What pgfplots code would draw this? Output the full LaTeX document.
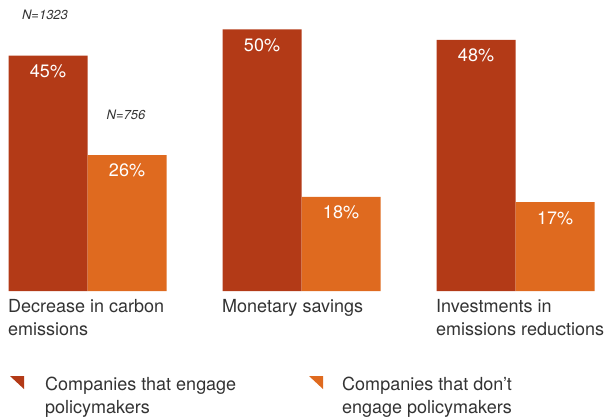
\documentclass[border=0pt]{standalone}
\usepackage{pgfplots}
\pgfplotsset{compat=1.18}
\usepackage{fontspec}
\setmainfont{TeX Gyre Heros}
\definecolor{darkred}{HTML}{B33A17}
\definecolor{orng}{HTML}{DF6A1F}
\definecolor{txt}{HTML}{333333}
\newcommand{\labfont}{\fontsize{18bp}{23bp}\selectfont}

\begin{document}
\begin{tikzpicture}
\begin{axis}[
    name=ax,
    width=605bp, height=419bp, scale only axis,
    xmin=0, xmax=605, ymin=-24.47, ymax=55.64,
    axis line style={draw=none},
    ytick=\empty,
    xtick={8,222,436},
    xticklabels={Decrease in carbon\\emissions, Monetary savings, Investments in\\emissions reductions},
    major tick length=0pt,
    xticklabel style={anchor=north west, align=left, inner sep=0pt,
        font=\labfont, text=txt, yshift=120bp},
    ybar, bar width=79,
    /pgf/number format/assume math mode=true,
    nodes near coords={\pgfmathprintnumber{\pgfplotspointmeta}\%},
    every node near coord/.append style={anchor=north, yshift=-9bp,
        inner sep=0pt, text=white, font=\labfont},
    legend style={at={(axis cs:10,-16.25)}, anchor=north west, draw=none,
        fill=none, inner sep=0pt, font=\labfont, text=txt,
        nodes={align=left, inner sep=0pt},
        /tikz/every even column/.append style={column sep=73bp}},
    legend columns=2,
    legend cell align=left,
]
\addplot[fill=darkred, draw=none, bar shift=-39.5,
    legend image code/.code={\fill[darkred] (0bp,20bp) -- (14bp,20bp) -- (14bp,7bp) -- cycle; \path (35bp,0bp);}]
    coordinates {(87.5,45) (301.5,50) (515.5,48)};
\addlegendentry{Companies that engage\\policymakers}
\addplot[fill=orng, draw=none, bar shift=39.5,
    legend image code/.code={\fill[orng] (0bp,20bp) -- (14bp,20bp) -- (14bp,7bp) -- cycle; \path (33bp,0bp);}]
    coordinates {(87.5,26) (301.5,18) (515.5,17)};
\addlegendentry{Companies that don’t\\engage policymakers}
\node[font=\itshape\fontsize{13bp}{15bp}\selectfont, text=txt] at (axis cs:45,52.8) {N=1323};
\node[font=\itshape\fontsize{13bp}{15bp}\selectfont, text=txt] at (axis cs:126,33.7) {N=756};
\end{axis}
\pgfresetboundingbox
\path (ax.south west) rectangle (ax.north east);
\end{tikzpicture}
\end{document}
